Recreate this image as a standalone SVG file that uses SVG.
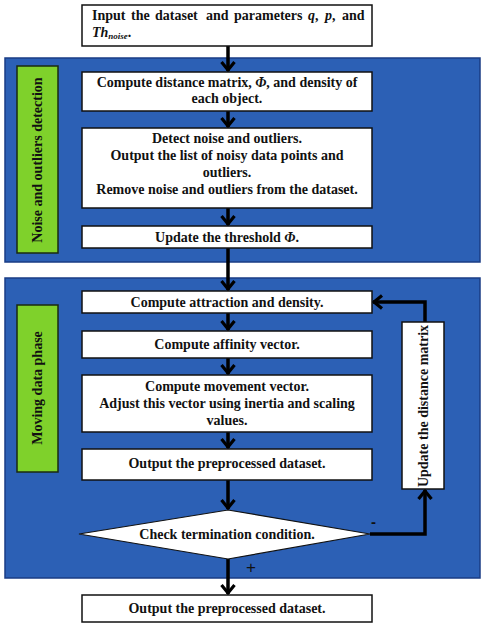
<svg xmlns="http://www.w3.org/2000/svg" width="485" height="631" viewBox="0 0 485 631">
<defs>
<style>
.panel{fill:#2c60b5;stroke:#1a3c85;stroke-width:1.5}
.green{fill:#7fd12b;stroke:#1a2a10;stroke-width:1.5}
.box{fill:#fff;stroke:#111;stroke-width:1.5}
.t{font-family:"Liberation Serif","DejaVu Serif",serif;font-weight:bold;font-size:14px;fill:#111;text-anchor:middle}
.tl{font-family:"Liberation Serif","DejaVu Serif",serif;font-weight:bold;font-size:14px;fill:#111}
.i{font-style:italic}
.conn{stroke:#000;stroke-width:3.5;fill:none}
</style>
<marker id="arr" viewBox="-12 -8 14 16" markerWidth="14" markerHeight="16" refX="0" refY="0" orient="auto" markerUnits="userSpaceOnUse">
<path d="M-9,-6.5 L-1,0 L-9,6.5" fill="none" stroke="#000" stroke-width="3.2" stroke-linejoin="miter"/>
</marker>
</defs>
<rect width="485" height="631" fill="#fff"/>

<g id="panel1">
<rect class="panel" x="5" y="58" width="475" height="204"/>
<rect class="green" x="17" y="66" width="41" height="187"/>
<text class="t" fill="#14300a" transform="translate(42,160) rotate(-90)">Noise and outliers detection</text>
</g>
<g id="panel2">
<rect class="panel" x="5" y="278" width="475" height="300"/>
<rect class="green" x="17" y="305" width="41" height="167"/>
<text class="t" transform="translate(42,388) rotate(-90)">Moving data phase</text>
</g>

<g id="connectors">
<path class="conn" d="M228,46 V71" marker-end="url(#arr)"/>
<path class="conn" d="M228,111 V127" marker-end="url(#arr)"/>
<path class="conn" d="M228,208 V225" marker-end="url(#arr)"/>
<path class="conn" d="M228,248 V290" marker-end="url(#arr)"/>
<path class="conn" d="M228,313 V330" marker-end="url(#arr)"/>
<path class="conn" d="M228,358 V374" marker-end="url(#arr)"/>
<path class="conn" d="M228,432 V448" marker-end="url(#arr)"/>
<path class="conn" d="M228,480 V509" marker-end="url(#arr)"/>
<path class="conn" d="M228,559 V594" marker-end="url(#arr)"/>
<path class="conn" d="M370,534 H425 V490" marker-end="url(#arr)"/>
<path class="conn" d="M425,322 V302 H373" marker-end="url(#arr)"/>
<text x="371" y="527" style="font-family:'Liberation Sans',sans-serif;font-size:15px;font-weight:bold;fill:#111">-</text>
<text x="246" y="573" style="font-family:'Liberation Sans',sans-serif;font-size:17px;fill:#111">+</text>
</g>

<g id="n-input">
<rect class="box" x="82" y="5" width="290" height="41"/>
<text class="tl" y="20"><tspan x="92">Input</tspan><tspan x="131">the</tspan><tspan x="155">dataset</tspan><tspan x="206">and</tspan><tspan x="234">parameters</tspan><tspan x="308" class="i">q</tspan><tspan>,</tspan><tspan x="325" class="i">p</tspan><tspan>,</tspan><tspan x="342">and</tspan></text>
<text class="tl" y="37"><tspan x="92" class="i">Th</tspan><tspan class="i" font-size="9" dy="2">noise</tspan><tspan dy="-2">.</tspan></text>
</g>

<g id="n-distance">
<rect class="box" x="82" y="72" width="290" height="39"/>
<text class="t" x="227" y="87">Compute distance matrix, <tspan class="i">Φ</tspan>, and density of</text>
<text class="t" x="227" y="103">each object.</text>
</g>

<g id="n-detect">
<rect class="box" x="82" y="128" width="290" height="80"/>
<text class="t" x="227" y="143">Detect noise and outliers.</text>
<text class="t" x="227" y="160">Output the list of noisy data points and</text>
<text class="t" x="227" y="177">outliers.</text>
<text class="t" x="227" y="194">Remove noise and outliers from the dataset.</text>
</g>

<g id="n-threshold">
<rect class="box" x="82" y="226" width="290" height="22"/>
<text class="t" x="227" y="242">Update the threshold <tspan class="i">Φ</tspan>.</text>
</g>

<g id="n-attraction">
<rect class="box" x="82" y="291" width="290" height="22"/>
<text class="t" x="227" y="307">Compute attraction and density.</text>
</g>

<g id="n-affinity">
<rect class="box" x="82" y="331" width="290" height="27"/>
<text class="t" x="227" y="349">Compute affinity vector.</text>
</g>

<g id="n-movement">
<rect class="box" x="82" y="375" width="290" height="57"/>
<text class="t" x="227" y="391">Compute movement vector.</text>
<text class="t" x="227" y="408">Adjust this vector using inertia and scaling</text>
<text class="t" x="227" y="425">values.</text>
</g>

<g id="n-output1">
<rect class="box" x="82" y="449" width="290" height="31"/>
<text class="t" x="227" y="468">Output the preprocessed dataset.</text>
</g>

<g id="n-update-matrix">
<rect class="box" x="402" y="322" width="42" height="167"/>
<text class="t" transform="translate(428,406) rotate(-90)">Update  the distance matrix</text>
</g>

<g id="n-check">
<polygon points="228,510 370,534 228,559 79,534" fill="#fff" stroke="#111" stroke-width="1.2"/>
<text class="t" x="227" y="539">Check termination condition.</text>
</g>

<g id="n-output2">
<rect class="box" x="82" y="595" width="290" height="27"/>
<text class="t" x="227" y="613">Output the preprocessed dataset.</text>
</g>
</svg>
